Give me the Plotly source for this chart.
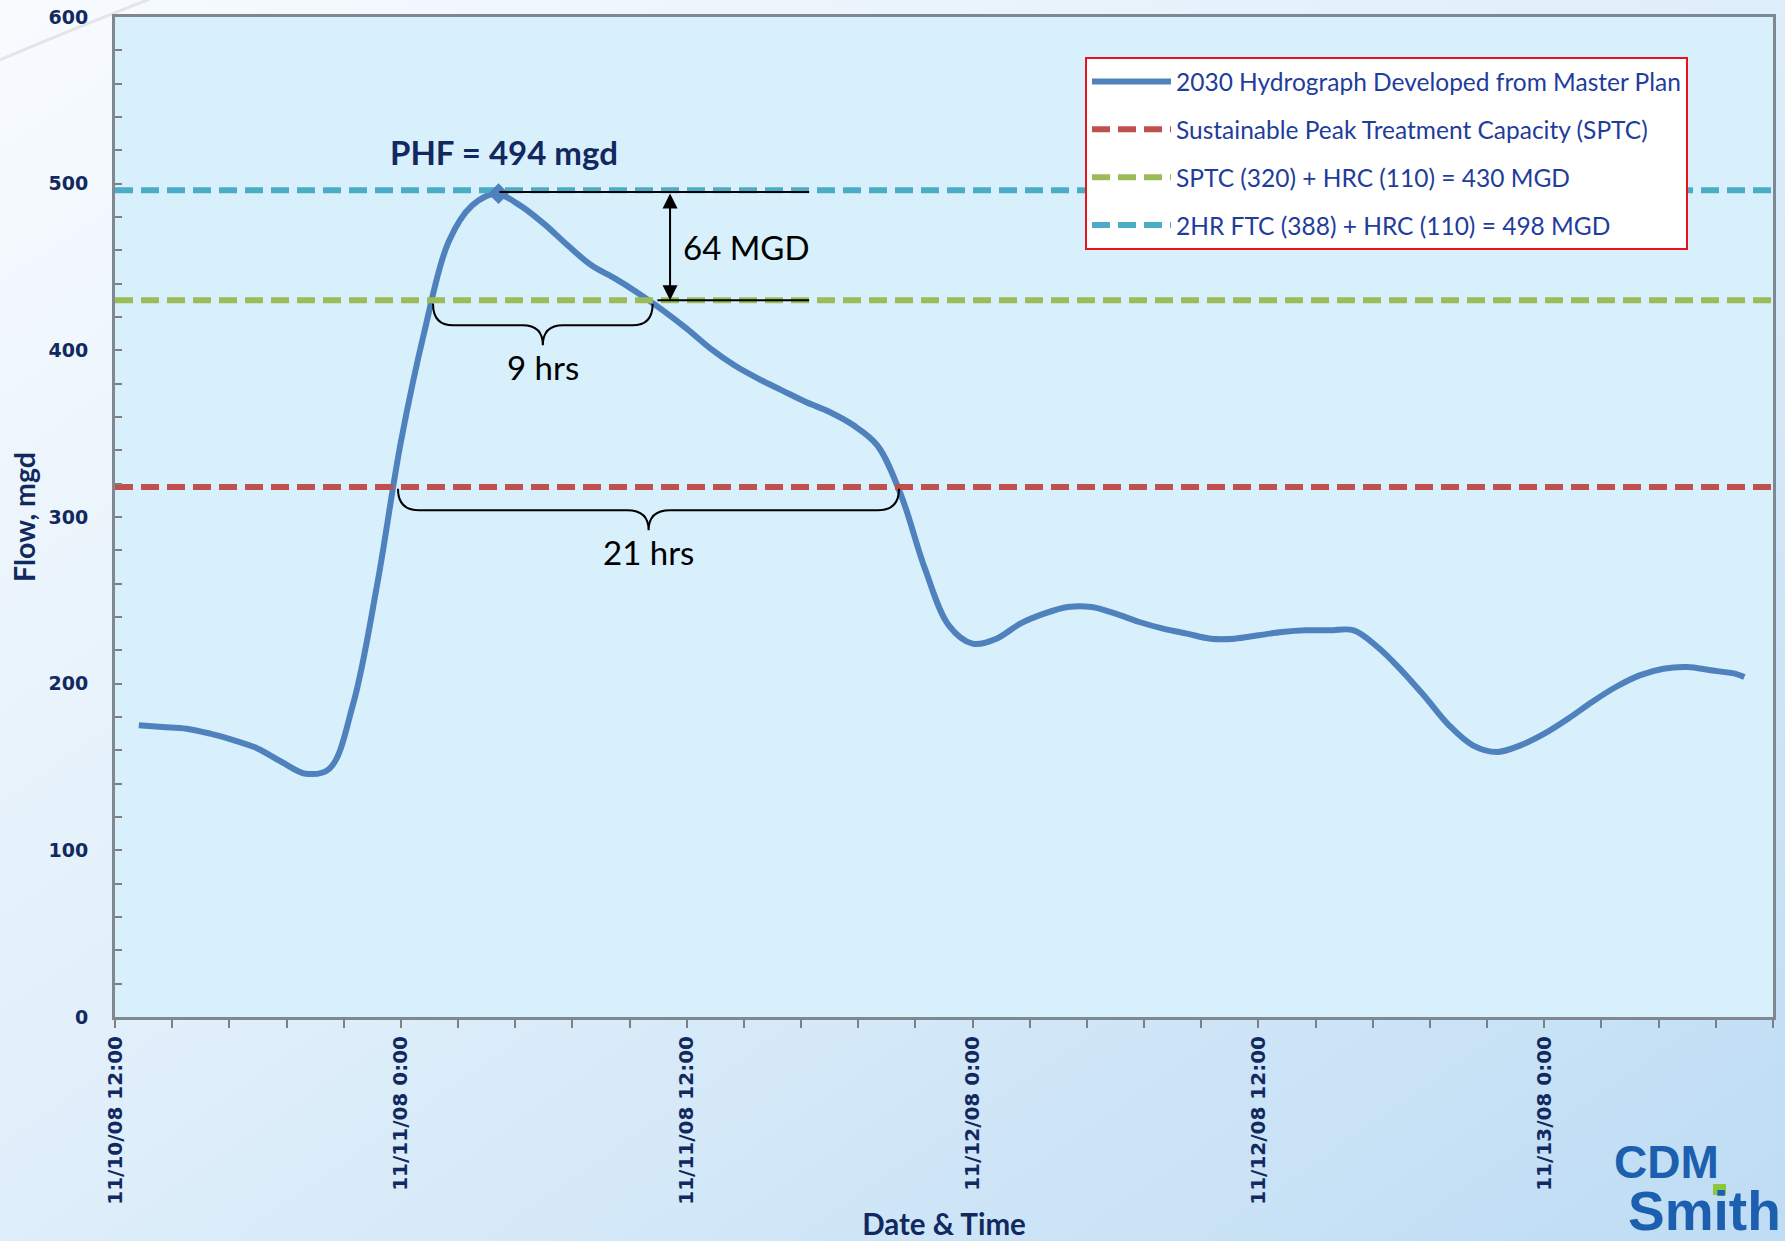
import base64
import plotly.graph_objects as go

# ---------------- data ----------------
# hours after 11/10/08 12:00
HOURS = list(range(1, 69)) + [68.4]
FLOW = [175, 174, 173, 170, 166, 161, 153, 146, 149, 188,
        259, 345, 412, 465, 487, 494, 487, 476, 463, 451,
        443, 434, 424, 413, 401, 391, 383, 376, 369, 363,
        355, 343, 313, 269, 235, 224, 227, 236, 242, 246,
        246, 242, 237, 233, 230, 227, 227, 229, 231, 232,
        232, 232, 222, 208, 192, 175, 163, 159, 163, 170,
        179, 189, 198, 205, 209, 210, 208, 206, 204]

PEAK_HOUR = 16.1
PEAK_FLOW = 494

SERIES_NAMES = ["2030 Hydrograph Developed from Master Plan",
                "Sustainable Peak Treatment Capacity (SPTC)",
                "SPTC (320) + HRC (110) = 430 MGD",
                "2HR FTC (388) + HRC (110) = 498 MGD"]
LEVELS = [318, 430, 496]          # drawn levels of the three capacity lines
X_RANGE = [0, 69.6]

TICK_HOURS = [0, 12, 24, 36, 48, 60]
TICK_LABELS = ["11/10/08 12:00", "11/11/08 0:00", "11/11/08 12:00",
               "11/12/08 0:00", "11/12/08 12:00", "11/13/08 0:00"]
Y_TICKS = [0, 100, 200, 300, 400, 500, 600]

# annotation geometry (hours, mgd)
BRACE_9 = dict(x0=13.35, xm=17.96, x1=22.57, ytop=428, yh=415, ytip=403, r=0.85)
BRACE_21 = dict(x0=11.88, xm=22.40, x1=32.91, ytop=317, yh=304, ytip=292, r=0.9)
TOP_LINE = (16.14, 29.14)
MID_LINE = (22.77, 29.14)
ARROW_X = 23.3

NAVY = "#11295e"
BLUE = "#4f81bd"
COLORS = ["#c0504d", "#9bbb59", "#4bacc6"]

fig = go.Figure()

fig.add_trace(go.Scatter(
    x=HOURS, y=FLOW, mode="lines", name=SERIES_NAMES[0],
    line=dict(color=BLUE, width=6, shape="spline", smoothing=1.0),
    legendgroup="a"))

for i, (lvl, col) in enumerate(zip(LEVELS, COLORS)):
    fig.add_trace(go.Scatter(
        x=X_RANGE, y=[lvl, lvl], mode="lines", name=SERIES_NAMES[i + 1],
        line=dict(color=col, width=6, dash="18px,8px"),
        legendgroup=f"g{i}"))

fig.add_trace(go.Scatter(
    x=[PEAK_HOUR], y=[PEAK_FLOW], mode="markers", showlegend=False,
    marker=dict(symbol="diamond", size=16, color=BLUE)))


def brace(b):
    x0, xm, x1, yt, yh, yp, r = b["x0"], b["xm"], b["x1"], b["ytop"], b["yh"], b["ytip"], b["r"]
    return (f"M {x0},{yt} Q {x0},{yh} {x0 + r},{yh} L {xm - r},{yh} "
            f"Q {xm},{yh} {xm},{yp} Q {xm},{yh} {xm + r},{yh} "
            f"L {x1 - r},{yh} Q {x1},{yh} {x1},{yt}")


W, H = 1785, 1241
ML, MR, MT, MB = 115, 12, 17, 224
PW, PH = W - ML - MR, H - MT - MB


def px2paper(px, py):
    return (px - ML) / PW, (H - MB - py) / PH


a0 = px2paper(-10, 64)
a1 = px2paper(70, 30)
a2 = px2paper(160, -5)

shapes = [
    dict(type="path", xref="paper", yref="paper",
         path=f"M {a0[0]},{a0[1]} Q {a1[0]},{a1[1]} {a2[0]},{a2[1]}",
         line=dict(color="#e3e5e9", width=3), layer="below"),
    dict(type="rect", xref="paper", yref="paper", x0=0, x1=1, y0=0, y1=1,
         fillcolor="#d8effc", line=dict(width=0), layer="below"),
    dict(type="path", path=brace(BRACE_9), line=dict(color="black", width=2)),
    dict(type="path", path=brace(BRACE_21), line=dict(color="black", width=2)),
    dict(type="line", x0=TOP_LINE[0], x1=TOP_LINE[1], y0=PEAK_FLOW + 1, y1=PEAK_FLOW + 1,
         line=dict(color="black", width=2)),
    dict(type="line", x0=MID_LINE[0], x1=MID_LINE[1], y0=LEVELS[1], y1=LEVELS[1],
         line=dict(color="black", width=2)),
]

annotations = [
    dict(x=16.35, y=519, text="<b>PHF = 494 mgd</b>", showarrow=False,
         font=dict(family="Lato", size=33, color=NAVY)),
    dict(x=26.5, y=462, text="64 MGD", showarrow=False,
         font=dict(family="Lato", size=33, color="black")),
    dict(x=BRACE_9["xm"], y=390, text="9 hrs", showarrow=False,
         font=dict(family="Lato", size=33, color="black")),
    dict(x=BRACE_21["xm"], y=279, text="21 hrs", showarrow=False,
         font=dict(family="Lato", size=33, color="black")),
    dict(x=ARROW_X, y=LEVELS[1], ax=ARROW_X, ay=PEAK_FLOW + 1, xref="x", yref="y",
         axref="x", ayref="y", text="", showarrow=True, arrowhead=2, arrowside="end+start",
         arrowsize=1.5, arrowwidth=2, arrowcolor="black", standoff=0, startstandoff=0),
]

cx, cy = px2paper(1612, 1162)
annotations.append(dict(xref="paper", yref="paper", x=cx, y=cy, xanchor="left", yanchor="middle",
                        text="<b>CDM</b>", showarrow=False,
                        font=dict(family="Liberation Sans", size=46, color="#1b5fae")))
sx, sy = px2paper(1626, 1211)
annotations.append(dict(xref="paper", yref="paper", x=sx, y=sy, xanchor="left", yanchor="middle",
                        text="<b>Smith</b>", showarrow=False,
                        font=dict(family="Liberation Sans", size=55, color="#1b5fae")))

# CDM Smith green square (dot of the i)
gx0, gy0 = px2paper(1713, 1195)
gx1, gy1 = px2paper(1726, 1184)
shapes.append(dict(type="rect", xref="paper", yref="paper", x0=gx0, x1=gx1, y0=gy0, y1=gy1,
                   fillcolor="#8cc63f", line=dict(width=0)))

svg = ('<svg xmlns="http://www.w3.org/2000/svg" width="1785" height="1241">'
       '<defs><linearGradient id="g" x1="0" y1="0" x2="1" y2="1">'
       '<stop offset="0" stop-color="#f8fbfe"/><stop offset="0.5" stop-color="#deeefa"/>'
       '<stop offset="1" stop-color="#bedcf4"/></linearGradient></defs>'
       '<rect width="1785" height="1241" fill="url(#g)"/></svg>')
src = "data:image/svg+xml;base64," + base64.b64encode(svg.encode()).decode()
ix, iy = px2paper(0, 0)

fig.update_layout(
    width=W, height=H,
    margin=dict(l=ML, r=MR, t=MT, b=MB, autoexpand=False),
    paper_bgcolor="#e3f0fa", plot_bgcolor="#d8effc",
    images=[dict(source=src, xref="paper", yref="paper", x=ix, y=iy,
                 sizex=W / PW, sizey=H / PH, sizing="stretch", layer="below",
                 xanchor="left", yanchor="top")],
    shapes=shapes, annotations=annotations,
    showlegend=True,
    legend=dict(x=(1085 - ML) / PW, y=(H - MB - 57) / PH, xanchor="left", yanchor="top",
                bgcolor="white", bordercolor="#e8131b", borderwidth=2,
                font=dict(family="Lato", size=24.5, color="#1f3d9b"),
                traceorder="grouped", tracegroupgap=13, itemwidth=79),
    xaxis=dict(range=X_RANGE, tickvals=TICK_HOURS, ticktext=TICK_LABELS, tickangle=-90,
               ticks="outside", ticklen=8, tickwidth=2, tickcolor="#7f7f7f",
               minor=dict(dtick=2.4, tick0=0, ticks="outside", ticklen=8, tickwidth=2,
                          tickcolor="#7f7f7f"),
               showline=True, linecolor="#7f8790", linewidth=3, mirror=True,
               showgrid=False, zeroline=False, ticklabelstandoff=0,
               tickfont=dict(family="DejaVu Sans", size=20, color=NAVY, weight="bold"),
               title=dict(text="<b>Date & Time</b>", standoff=13,
                          font=dict(family="Lato", size=29.5, color=NAVY))),
    yaxis=dict(range=[0, 600], tickvals=Y_TICKS, ticks="inside", ticklen=7, tickwidth=2,
               tickcolor="#7f7f7f",
               minor=dict(dtick=20, ticks="inside", ticklen=7, tickwidth=2, tickcolor="#7f7f7f"),
               showline=True, linecolor="#7f8790", linewidth=3, mirror=True,
               showgrid=False, zeroline=False, ticklabelstandoff=20,
               tickfont=dict(family="DejaVu Sans", size=19, color=NAVY, weight="bold"),
               title=dict(text="<b>Flow, mgd</b>", standoff=5,
                          font=dict(family="Lato", size=28.5, color=NAVY))),
)

fig.write_html("out.html", config={"displayModeBar": False},
               post_script="document.body.style.margin='0px';document.body.style.overflow='hidden';")
